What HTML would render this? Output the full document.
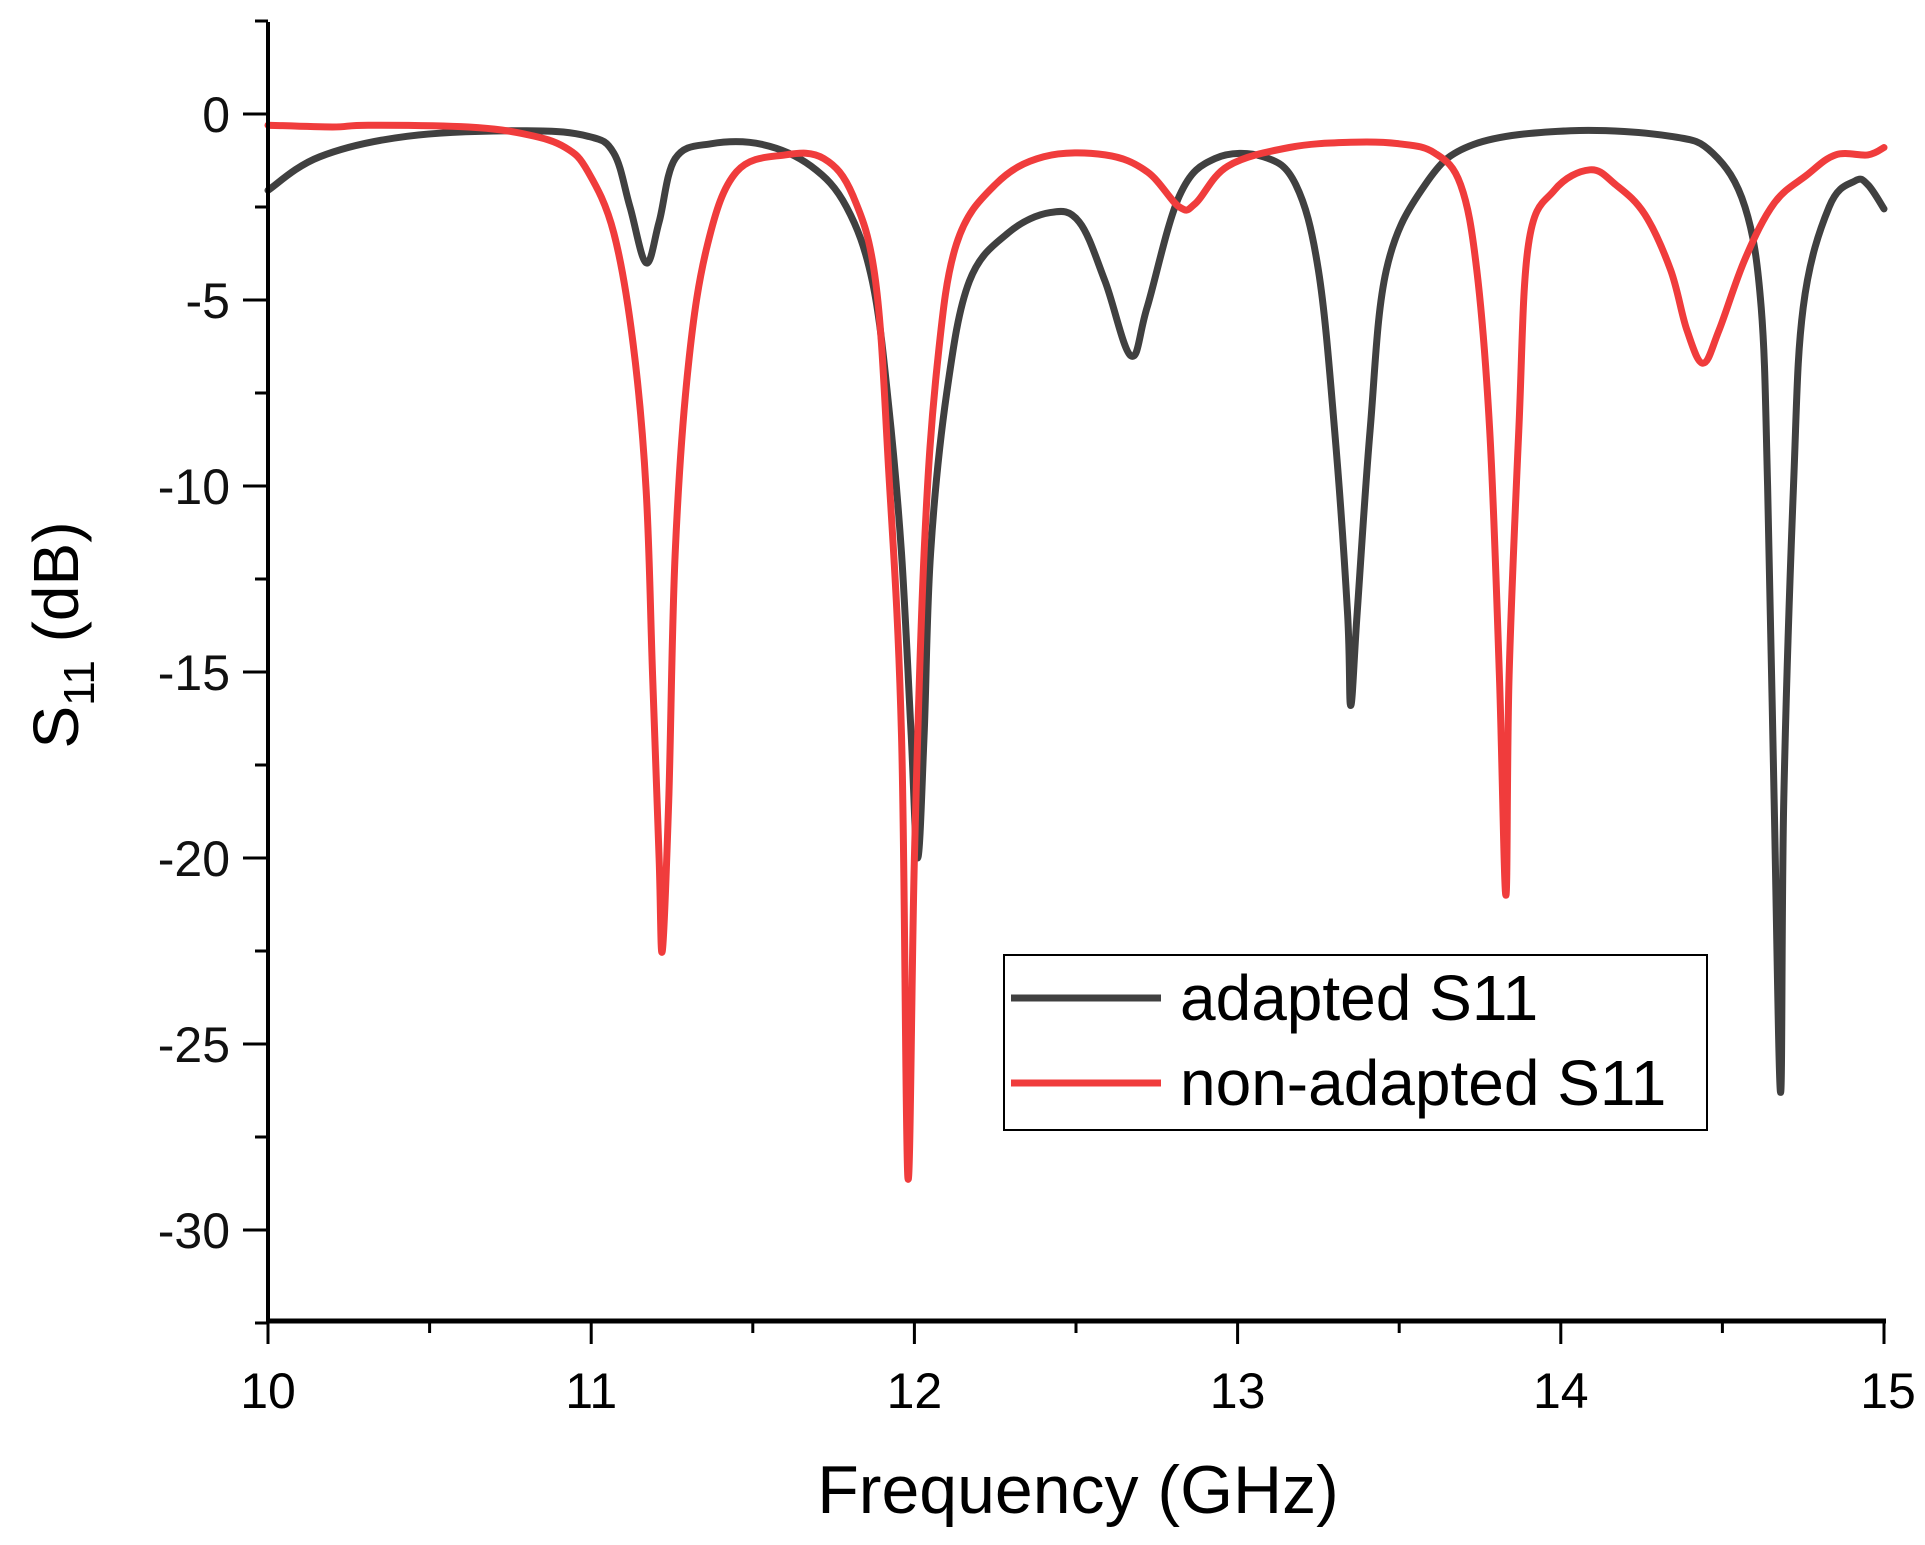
<!DOCTYPE html>
<html><head><meta charset="utf-8"><style>
html,body{margin:0;padding:0;background:#fff;}
svg{display:block;font-family:"Liberation Sans",Arial,sans-serif;}
</style></head><body>
<svg id="chart" width="1925" height="1545" viewBox="0 0 1925 1545"></svg>
<script>
const xTicks=[10,11,12,13,14,15];
const yTicks=[0,-5,-10,-15,-20,-25,-30];
const adaptedF=[10,10.16,10.43,10.8,10.99,11.07,11.12,11.17,11.21,11.26,11.37,11.53,11.68,11.79,11.87,11.92,11.96,11.99,12.01,12.03,12.05,12.1,12.17,12.29,12.42,12.51,12.59,12.67,12.72,12.82,12.93,13.08,13.18,13.25,13.3,13.34,13.35,13.37,13.41,13.46,13.58,13.73,14.03,14.34,14.47,14.57,14.62,14.64,14.66,14.68,14.69,14.72,14.75,14.83,14.91,14.95,15];
const adaptedV=[-2.05,-1.15,-0.6,-0.45,-0.6,-1.05,-2.5,-4.0,-2.9,-1.2,-0.8,-0.82,-1.4,-2.5,-4.5,-7.8,-11.8,-16.7,-20,-16.7,-11.8,-7.5,-4.5,-3.2,-2.65,-2.9,-4.5,-6.5,-5.2,-2.2,-1.2,-1.15,-1.9,-4.2,-8.5,-13.4,-15.9,-13.4,-8.5,-4.2,-1.9,-0.82,-0.45,-0.6,-1.05,-2.5,-5.2,-10,-18.4,-26.3,-18.4,-10,-5.2,-2.5,-1.8,-1.9,-2.55];
const nonF=[10,10.2,10.31,10.62,10.8,10.92,10.99,11.07,11.13,11.17,11.19,11.21,11.22,11.24,11.26,11.3,11.36,11.45,11.6,11.72,11.81,11.88,11.92,11.96,11.98,12.0,12.03,12.07,12.13,12.25,12.4,12.59,12.72,12.82,12.87,12.97,13.16,13.35,13.5,13.61,13.69,13.74,13.78,13.81,13.83,13.84,13.87,13.9,13.98,14.09,14.17,14.26,14.34,14.39,14.44,14.49,14.57,14.66,14.76,14.85,14.95,15];
const nonV=[-0.3,-0.35,-0.3,-0.35,-0.55,-0.9,-1.55,-3.2,-6.2,-10.1,-15.1,-20,-22.5,-18.4,-11.8,-6.8,-3.5,-1.55,-1.1,-1.2,-2.2,-4.5,-9.5,-16.7,-28.6,-20,-11.8,-6.8,-3.5,-1.9,-1.15,-1.1,-1.55,-2.5,-2.4,-1.4,-0.9,-0.76,-0.8,-1.05,-1.9,-4.2,-8.5,-15.1,-21,-15.1,-8.5,-3.5,-2.05,-1.5,-1.9,-2.7,-4.2,-5.8,-6.7,-5.8,-3.9,-2.4,-1.65,-1.1,-1.1,-0.9];

const NS="http://www.w3.org/2000/svg";
const svg=document.getElementById('chart');
const X0=268,X1=1884,Y0=114,YS=37.2,AXB=1321,AXT=22;
function sx(f){return X0+(f-10)*(X1-X0)/5;}
function sy(v){return Y0-v*YS;}
function mk(tag,attrs){const e=document.createElementNS(NS,tag);for(const k in attrs)e.setAttribute(k,attrs[k]);svg.appendChild(e);return e;}

function series(F,V,color,name){
  const P=F.map((f,i)=>[sx(f),sy(V[i])]);
  let d='M'+P[0][0].toFixed(1)+','+P[0][1].toFixed(1);
  const t=0.35;
  for(let i=0;i<P.length-1;i++){
    const p0=P[Math.max(0,i-1)],p1=P[i],p2=P[i+1],p3=P[Math.min(P.length-1,i+2)];
    let c1x=p1[0]+(p2[0]-p0[0])*t/2,c1y=p1[1]+(p2[1]-p0[1])*t/2;
    let c2x=p2[0]-(p3[0]-p1[0])*t/2,c2y=p2[1]-(p3[1]-p1[1])*t/2;
    c1x=Math.min(Math.max(c1x,p1[0]),p2[0]);c2x=Math.min(Math.max(c2x,p1[0]),p2[0]);
    d+='C'+c1x.toFixed(1)+','+c1y.toFixed(1)+' '+c2x.toFixed(1)+','+c2y.toFixed(1)+' '+p2[0].toFixed(1)+','+p2[1].toFixed(1);
  }
  const p=mk('path',{d:d,fill:'none',stroke:color,'stroke-width':7,'stroke-linejoin':'round','stroke-linecap':'round'});
  
  
}
series(adaptedF,adaptedV,'#404040','adapted-s11-line');
series(nonF,nonV,'#f03c3c','non-adapted-s11-line');

const ya=mk('line',{x1:X0,y1:AXT,x2:X0,y2:AXB+2,stroke:'#000','stroke-width':4});


const xa=mk('line',{x1:X0-2,y1:AXB,x2:X1+2,y2:AXB,stroke:'#000','stroke-width':5});



for(let v=2.5;v>=-32.5;v-=2.5){
  const major=Math.abs(v%5)<0.01;
  mk('line',{x1:X0-(major?25:13),y1:sy(v),x2:X0,y2:sy(v),stroke:'#000','stroke-width':3});
}
yTicks.forEach(v=>{
  const t=mk('text',{x:X0-38,y:sy(v)+18,'text-anchor':'end','font-size':50,fill:'#111'});
  t.textContent=String(v);
  
  
});
for(let f=10;f<=15.001;f+=0.5){
  const major=Math.abs(f-Math.round(f))<0.01;
  mk('line',{x1:sx(f),y1:AXB,x2:sx(f),y2:AXB+(major?23:12),stroke:'#000','stroke-width':3});
}
xTicks.forEach(f=>{
  const t=mk('text',{x:sx(f)+(f===15?4:0),y:1408,'text-anchor':'middle','font-size':50,fill:'#000'});
  t.textContent=f;
  
  
});
</script>
<div style="position:absolute;left:0;top:0;width:1925px;height:1545px;pointer-events:none;">
<svg width="1925" height="1545" style="position:absolute;left:0;top:0;font-family:'Liberation Sans',Arial,sans-serif;">
<text x="1078" y="1513" text-anchor="middle" font-size="68">Frequency (GHz)</text>
<g transform="translate(78,635) rotate(-90)">
<text x="0" y="0" text-anchor="middle" font-size="64">S<tspan font-size="44" dy="16">11</tspan><tspan dy="-16"> (dB)</tspan></text>
</g>
<g>
<rect x="1004" y="955" width="703" height="175" fill="#fff" stroke="#000" stroke-width="2"/>
<line x1="1011" y1="998" x2="1161" y2="998" stroke="#404040" stroke-width="7"/>
<text x="1180" y="1020" font-size="64">adapted S11</text>
<line x1="1011" y1="1083" x2="1161" y2="1083" stroke="#f03c3c" stroke-width="7"/>
<text x="1180" y="1105" font-size="64">non-adapted S11</text>
</g>
</svg>
</div>
</body></html>
